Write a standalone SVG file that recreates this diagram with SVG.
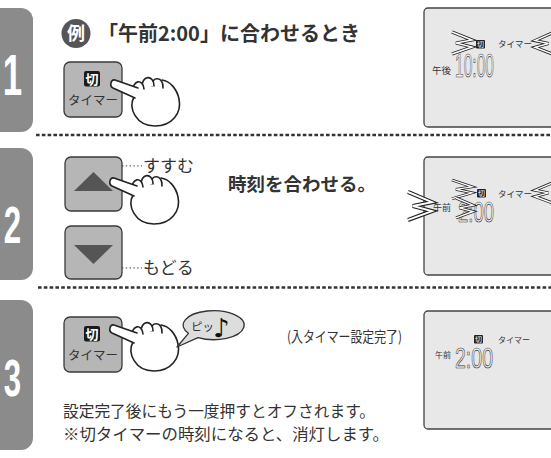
<svg xmlns="http://www.w3.org/2000/svg" width="551" height="458" viewBox="0 0 551 458">
  <defs>
    <style>
      .jp{font-family:"Noto Sans CJK JP","Noto Sans",sans-serif;fill:#333}
      .tab{fill:#8b8b8b}
      .num{font-family:"Liberation Sans",Arial,sans-serif;font-weight:bold;fill:#fff;text-anchor:middle}
      .sep{stroke:#333;stroke-width:2.4;stroke-dasharray:3.6 2.2;fill:none}
      .btn{fill:#b6b6b6;stroke:#3a3a3a;stroke-width:1.3}
      .lcd{fill:#e8e8e8;stroke:#444;stroke-width:1.3}
      .hand{fill:#fff;stroke:#222;stroke-width:1.6;stroke-linejoin:round;stroke-linecap:round}
      .seg{font-family:"Liberation Sans",Arial,sans-serif;fill:#f2f2f2;stroke:#333;stroke-width:0.7}
      .flash-out{fill:none;stroke:#222;stroke-width:3.3;stroke-linejoin:miter}
      .flash-in{fill:none;stroke:#fff;stroke-width:1.5;stroke-linejoin:miter}
      .lead{stroke:#666;stroke-width:1.3;stroke-dasharray:1.4 2.4}
    </style>
    <!-- pointing hand, fingertip at 0,0 -->
    <g id="hand-shape" class="hand">
      <path d="M48,-4 C56,-3 63,5 65,15 C68,29 58,42 41,42 C22,42 14,24 20,13"/>
      <path d="M38,2 C37,-8 50,-8 49,4"/>
      <path d="M28,4 C27,-9 40,-10 40,2"/>
      <path d="M19,8 C18,-4 29,-6 30,5"/>
      <path d="M24,4 L1,-4 C-3,-5 -5,2 -1,4 L21,14"/>
    </g>
    <!-- blinking mark, pointing right -->
    <g id="flash">
      <polyline class="flash-out" points="0,0 20,8 4,11 20,15 0,22"/>
      <polyline class="flash-in" points="0,0 20,8 4,11 20,15 0,22"/>
    </g>
    <!-- 切タイマー button, origin at top-left -->
    <g id="kiri-button">
      <rect class="btn" x="0" y="0" width="58" height="55" rx="6"/>
      <rect x="20" y="9" width="16" height="15.5" rx="2" fill="#1a1a1a"/>
      <text class="jp" x="28" y="21.5" font-size="13" font-weight="bold" text-anchor="middle" style="fill:#fff">切</text>
      <text class="jp" x="29" y="43" font-size="12.5" text-anchor="middle">タイマー</text>
    </g>
  </defs>

  <!-- step tabs -->
  <g id="step1-tab">
    <rect class="tab" x="-14" y="8" width="47" height="124" rx="12"/>
    <text class="num" transform="translate(12.5,95) scale(0.6,1)" font-size="58">1</text>
  </g>
  <g id="step2-tab">
    <rect class="tab" x="-14" y="148" width="47" height="132" rx="12"/>
    <text class="num" transform="translate(12.5,243) scale(0.6,1)" font-size="52">2</text>
  </g>
  <g id="step3-tab">
    <rect class="tab" x="-14" y="300" width="47" height="150" rx="12"/>
    <text class="num" transform="translate(12.5,396) scale(0.6,1)" font-size="52">3</text>
  </g>

  <!-- separators and leader dots -->
  <g id="connectors">
    <line class="sep" x1="36" y1="135" x2="551" y2="135"/>
    <line class="sep" x1="38" y1="287.5" x2="551" y2="287.5"/>
    <rect x="115.5" y="164" width="3.5" height="3.5" fill="#999"/>
    <line class="lead" x1="122" y1="165.8" x2="142" y2="165.8"/>
    <rect x="115.5" y="266" width="3.5" height="3.5" fill="#999"/>
    <line class="lead" x1="122" y1="267.8" x2="142" y2="267.8"/>
  </g>

  <!-- step 1 -->
  <g id="example-title">
    <circle cx="76" cy="33.5" r="14.5" fill="#555"/>
    <text class="jp" x="76" y="40" font-size="18" font-weight="bold" text-anchor="middle" style="fill:#fff">例</text>
    <text class="jp" x="98" y="40.5" font-size="20" font-weight="bold">「午前2:00」に合わせるとき</text>
  </g>
  <g id="step1-button">
    <use href="#kiri-button" transform="translate(64,62)"/>
    <use href="#hand-shape" transform="translate(114,84)"/>
  </g>
  <g id="display1">
    <rect class="lcd" x="424" y="8" width="140" height="119" rx="4"/>
    <use href="#flash" transform="translate(452,32)"/>
    <use href="#flash" transform="translate(552,33) scale(-0.85,0.95)"/>
    <rect x="476" y="40" width="9" height="8.5" rx="1" fill="#222"/>
    <text class="jp" x="480.5" y="47" font-size="7" text-anchor="middle" style="fill:#fff">切</text>
    <text class="jp" x="498" y="47" font-size="8.5">タイマー</text>
    <text class="jp" x="432" y="74" font-size="9.5">午後</text>
    <text class="seg" x="455" y="77" font-size="33" textLength="39" lengthAdjust="spacingAndGlyphs">10:00</text>
  </g>

  <!-- step 2 -->
  <g id="up-button">
    <rect class="btn" x="65" y="157" width="57" height="54" rx="6"/>
    <polygon points="74,191 113,191 93.5,172" fill="#555"/>
    <text class="jp" x="143" y="172" font-size="17">すすむ</text>
    <use href="#hand-shape" transform="translate(113,182)"/>
  </g>
  <g id="down-button">
    <rect class="btn" x="65" y="226" width="57" height="53" rx="6"/>
    <polygon points="74,245 113,245 93.5,264" fill="#555"/>
    <text class="jp" x="143" y="274" font-size="17">もどる</text>
  </g>
  <g id="step2-caption">
    <text class="jp" x="228" y="191" font-size="18.5" font-weight="bold">時刻を合わせる。</text>
  </g>
  <g id="display2">
    <rect class="lcd" x="424" y="157" width="140" height="118" rx="4"/>
    <use href="#flash" transform="translate(452,180) scale(1,0.85)"/>
    <use href="#flash" transform="translate(552,183) scale(-0.85,0.9)"/>
    <rect x="477" y="189" width="9" height="8.5" rx="1" fill="#222"/>
    <text class="jp" x="481.5" y="196" font-size="7" text-anchor="middle" style="fill:#fff">切</text>
    <text class="jp" x="498" y="197" font-size="8.5">タイマー</text>
    <text class="jp" x="433" y="211" font-size="9">午前</text>
    <text class="seg" x="458" y="222" font-size="30" textLength="36" lengthAdjust="spacingAndGlyphs">2:00</text>
    <use href="#flash" transform="translate(456,198) scale(0.85,0.9)"/>
    <use href="#flash" transform="translate(408,192) scale(1.2,1.27)"/>
  </g>

  <!-- step 3 -->
  <g id="step3-button">
    <use href="#kiri-button" transform="translate(64,317)"/>
    <use href="#hand-shape" transform="translate(113,329)"/>
  </g>
  <g id="beep-bubble">
    <path d="M198,337.6 A30.5 14.5 0 1 0 188.4,333.3 L177,347 Z" fill="#ddd" stroke="#333" stroke-width="1.3" stroke-linejoin="round"/>
    <text class="jp" x="191" y="331" font-size="11.5">ピッ</text>
    <text x="213" y="337" font-size="26" font-family="DejaVu Sans,sans-serif" fill="#111">♪</text>
  </g>
  <g id="step3-caption">
    <text class="jp" x="287" y="342" font-size="14.5" textLength="115" lengthAdjust="spacingAndGlyphs">(入タイマー設定完了)</text>
    <text class="jp" x="63" y="417" font-size="16" textLength="312" lengthAdjust="spacingAndGlyphs">設定完了後にもう一度押すとオフされます。</text>
    <text class="jp" x="63" y="440" font-size="16" textLength="326" lengthAdjust="spacingAndGlyphs">※切タイマーの時刻になると、消灯します。</text>
  </g>
  <g id="display3">
    <rect class="lcd" x="424" y="311" width="140" height="118" rx="4"/>
    <rect x="474" y="335" width="9" height="8.5" rx="1" fill="#222"/>
    <text class="jp" x="478.5" y="342" font-size="7" text-anchor="middle" style="fill:#fff">切</text>
    <text class="jp" x="498" y="343" font-size="8">タイマー</text>
    <text class="jp" x="435" y="358" font-size="8">午前</text>
    <text class="seg" x="455" y="368" font-size="29" textLength="38" lengthAdjust="spacingAndGlyphs">2:00</text>
  </g>
</svg>
